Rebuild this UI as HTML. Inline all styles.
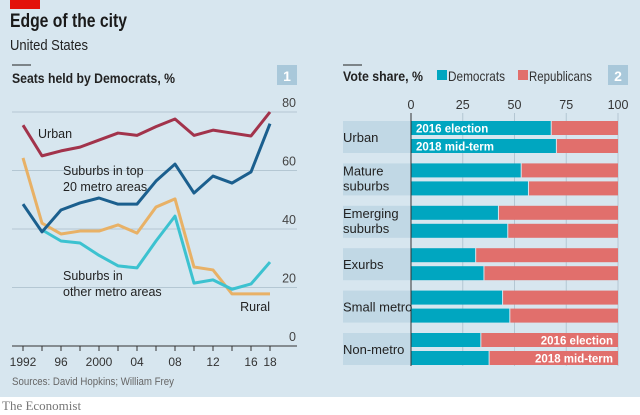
<!DOCTYPE html>
<html><head><meta charset="utf-8"><style>
body{margin:0;width:640px;height:415px;background:#fff;overflow:hidden;font-family:"Liberation Sans",sans-serif}
svg{display:block}
</style></head><body>
<svg width="640" height="415">
<rect x="0" y="0" width="640" height="397" fill="#d7e6ef"/>
<rect x="10" y="0" width="30" height="9" fill="#e3120b"/>
<text x="10" y="27" font-size="19" font-weight="bold" fill="#1a1a1a" textLength="117" lengthAdjust="spacingAndGlyphs">Edge of the city</text>
<text x="10" y="50" font-size="14.5" fill="#222" textLength="78" lengthAdjust="spacingAndGlyphs">United States</text>
<line x1="12" y1="65" x2="31" y2="65" stroke="#222" stroke-width="1"/>
<text x="12" y="83" font-size="14" font-weight="bold" fill="#222" textLength="163" lengthAdjust="spacingAndGlyphs">Seats held by Democrats, %</text>
<rect x="277" y="65" width="20" height="20" fill="#a9c8da"/>
<text x="287" y="81" font-size="14" font-weight="bold" fill="#fff" text-anchor="middle">1</text>
<line x1="343" y1="65" x2="362" y2="65" stroke="#222" stroke-width="1"/>
<text x="343" y="81" font-size="14" font-weight="bold" fill="#222" textLength="80" lengthAdjust="spacingAndGlyphs">Vote share, %</text>
<rect x="437" y="70" width="10" height="10" fill="#00a6c0"/>
<text x="448" y="81" font-size="14" fill="#333" textLength="57" lengthAdjust="spacingAndGlyphs">Democrats</text>
<rect x="518" y="70" width="10" height="10" fill="#e16f6c"/>
<text x="529" y="81" font-size="14" fill="#333" textLength="63" lengthAdjust="spacingAndGlyphs">Republicans</text>
<rect x="608" y="65" width="20" height="20" fill="#a9c8da"/>
<text x="618" y="81" font-size="14" font-weight="bold" fill="#fff" text-anchor="middle">2</text>
<g id="left"></g>
<g id="right"></g>
<text x="12" y="385" font-size="11" fill="#666" textLength="162" lengthAdjust="spacingAndGlyphs">Sources: David Hopkins; William Frey</text>
<text x="2" y="410" font-size="13" fill="#777" font-family="Liberation Serif,serif">The Economist</text>
</svg>
<script>
const years=[1992,1994,1996,1998,2000,2002,2004,2006,2008,2010,2012,2014,2016,2018];
const yTicks=[0,20,40,60,80];
const xTickLabels=["1992","96","2000","04","08","12","16","18"];
const xTickYears=[1992,1996,2000,2004,2008,2012,2016,2018];
const urban=[75.5,65,66.7,68,70.4,72.8,72,75,77.6,72,73.8,72.8,71.8,80];
const top20=[48.5,39,46.5,48.9,50.6,48.5,48.5,56.4,62.2,52.3,58.1,55.7,59.5,76];
const rural=[64.3,42,38.3,39.3,39.3,41.4,38.6,47.5,50.3,27,26,17.8,17.8,17.8];
const otherYears=[1994,1996,1998,2000,2002,2004,2006,2008,2010,2012,2014,2016,2018];
const otherSub=[39.7,35.9,35.2,31,27.4,26.7,35.9,44.4,21.5,22.6,19.4,21.2,28.7];

const groups=["Urban","Mature|suburbs","Emerging|suburbs","Exurbs","Small metro","Non-metro"];
const dem2016=[67.5,53,42,31,44,33.5];
const dem2018=[70,56.5,46.5,35,47.5,37.5];
const shareTicks=[0,25,50,75,100];

const NS="http://www.w3.org/2000/svg";
function mk(parent,tag,attrs,text){const e=document.createElementNS(NS,tag);for(const k in attrs)e.setAttribute(k,attrs[k]);if(text!==undefined)e.textContent=text;parent.appendChild(e);return e;}
const xL=y=>23+(y-1992)/2*19;
const yL=v=>346-v*2.925;
const L=document.getElementById('left');
yTicks.forEach(t=>{
  if(t>0){const g=mk(L,'line',{x1:12,x2:297,y1:yL(t),y2:yL(t),stroke:'#b4c7d3','stroke-width':1});
  
  }
  const tx=mk(L,'text',{x:296,y:yL(t)-5,'font-size':12.5,fill:'#444','text-anchor':'end'},String(t));
  
  
});
const ax=mk(L,'line',{x1:12,x2:297,y1:346,y2:346,stroke:'#333','stroke-width':1});


years.forEach(y=>{const t=mk(L,'line',{x1:xL(y),x2:xL(y),y1:346,y2:351,stroke:'#333'});
  
  });
xTickLabels.forEach((lab,i)=>{const t=mk(L,'text',{x:xL(xTickYears[i]),y:366,'font-size':12,fill:'#333','text-anchor':'middle'},lab);
  
  });
function line(xs,vals,color,name){
  const p=mk(L,'polyline',{points:vals.map((v,i)=>xL(xs[i])+','+yL(v)).join(' '),fill:'none',stroke:color,'stroke-width':3,'stroke-linejoin':'round'});
  
  
}
line(years,rural,'#e8b166','line-rural');
line(otherYears,otherSub,'#3cc2d0','line-other-suburbs');
line(years,top20,'#1b5f8e','line-top20-suburbs');
line(years,urban,'#a2334b','line-urban');
function lab(x,y,lines,name,anchor){const t=mk(L,'text',{x:x,y:y,'font-size':12.5,fill:'#222','text-anchor':anchor||'start'});
  
  
  lines.forEach((s,i)=>mk(t,'tspan',{x:x,dy:i?16:0},s));}
lab(38,138,["Urban"],'label-urban');
lab(63,175,["Suburbs in top","20 metro areas"],'label-top20');
lab(63,280,["Suburbs in","other metro areas"],'label-other');
lab(270,311,["Rural"],'label-rural','end');

const R=document.getElementById('right');
const xR=v=>411+v*2.07;
shareTicks.forEach(t=>{const tx=mk(R,'text',{x:xR(t),y:109,'font-size':12.5,fill:'#333','text-anchor':'middle'},String(t));
  
  
  if(t>0){const gl=mk(R,'line',{x1:xR(t),x2:xR(t),y1:113,y2:366,stroke:'#b4c7d3'});
  
  }
});
groups.forEach((g,i)=>{
  const top=121+i*42.4;
  const band=mk(R,'rect',{x:343,y:top,width:68,height:32,fill:'#c1d8e5'});
  
  
  const parts=g.split('|');
  const t=mk(R,'text',{x:343,y:top+(parts.length>1?12:21),'font-size':13,fill:'#222'});
  
  
  parts.forEach((s,k)=>mk(t,'tspan',{x:343,dy:k?15:0},s));
  [dem2016[i],dem2018[i]].forEach((d,k)=>{
    const y=top+k*18;
    const b=mk(R,'rect',{x:xR(0),y:y,width:xR(d)-xR(0),height:14,fill:'#00a6c0'});
    
    
    const r=mk(R,'rect',{x:xR(d)+1,y:y,width:xR(100)-xR(d)-1,height:14,fill:'#e16f6c'});
    
    
  });
});
const zl=mk(R,'line',{x1:411,x2:411,y1:113,y2:366,stroke:'#333'});


function barLab(x,y,s,anchor){const t=mk(R,'text',{x:x,y:y,'font-size':11.5,'font-weight':'bold',fill:'#fff','text-anchor':anchor},s);
  
  }
barLab(416,132.5,"2016 election",'start');
barLab(416,150.5,"2018 mid-term",'start');
barLab(613,132.5+5*42.4,"2016 election",'end');
barLab(613,150.5+5*42.4,"2018 mid-term",'end');
</script>
</body></html>
